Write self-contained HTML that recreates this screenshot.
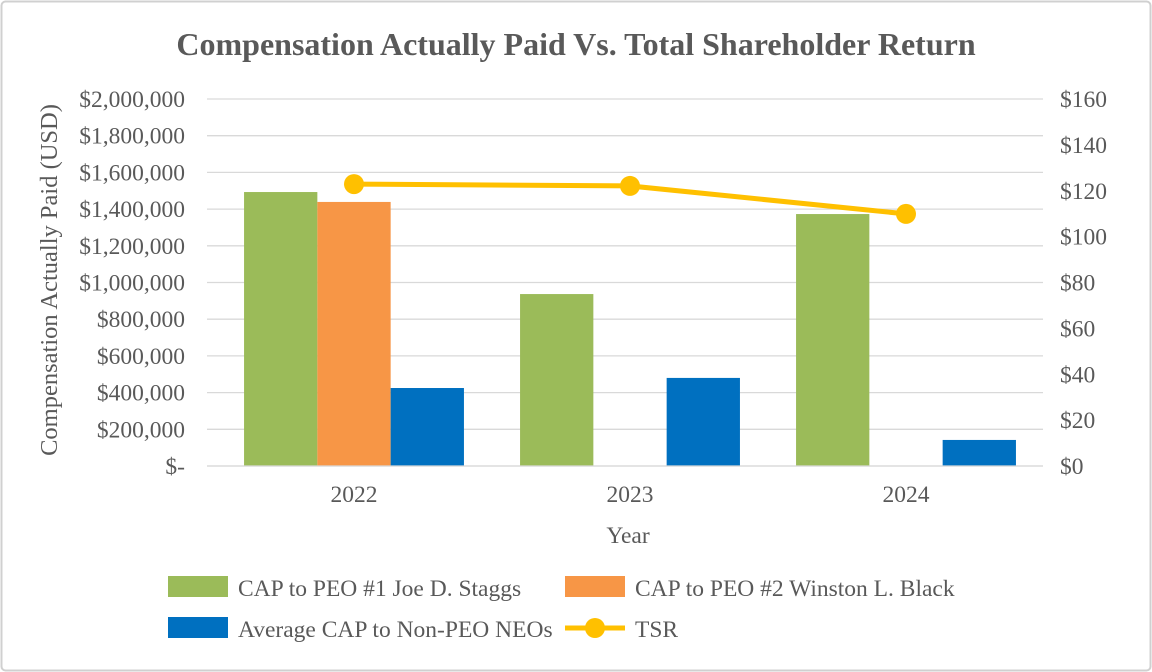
<!DOCTYPE html>
<html><head><meta charset="utf-8"><style>
html,body{margin:0;padding:0;background:#fff;}
svg{display:block;font-family:"Liberation Serif",serif;}
</style></head><body>
<svg width="1152" height="672" viewBox="0 0 1152 672">
<rect x="1.5" y="1.5" width="1149" height="669" rx="4" fill="#fff" stroke="#d0d0d0" stroke-width="2"/>
<text x="576" y="55" text-anchor="middle" font-size="32" font-weight="bold" fill="#595959">Compensation Actually Paid Vs. Total Shareholder Return</text>
<g id="grid"></g><g id="bars"></g><g id="line"></g><g id="axes"></g>
<text transform="translate(57,280) rotate(-90)" text-anchor="middle" font-size="24.5" fill="#595959">Compensation Actually Paid (USD)</text>
<text x="628" y="543" text-anchor="middle" font-size="23.5" fill="#595959">Year</text>
<g font-size="23.5" fill="#595959">
<g><rect x="168" y="576" width="60" height="21" fill="#9BBB59"/><text x="238" y="596">CAP to PEO #1 Joe D. Staggs</text></g>
<g><rect x="565" y="576" width="60" height="21" fill="#F79646"/><text x="635" y="596">CAP to PEO #2 Winston L. Black</text></g>
<g><rect x="168" y="617" width="60" height="21" fill="#0070C0"/><text x="238" y="637">Average CAP to Non-PEO NEOs</text></g>
<g><line x1="565" y1="628" x2="625" y2="628" stroke="#FFC000" stroke-width="5"/><circle cx="595" cy="628" r="10" fill="#FFC000"/><text x="635" y="637">TSR</text></g>
</g>
</svg>
<script>
const categories=["2022","2023","2024"];
const peo1=[1493000,937000,1373000];
const peo2=[1439000,0,0];
const neo=[425000,480000,142000];
const tsr=[122.9,122.1,109.9];
const leftTicks=["$-","$200,000","$400,000","$600,000","$800,000","$1,000,000","$1,200,000","$1,400,000","$1,600,000","$1,800,000","$2,000,000"];
const rightTicks=["$0","$20","$40","$60","$80","$100","$120","$140","$160"];
const NS="http://www.w3.org/2000/svg";
const gx0=207,gx1=1043,px0=216,px1=1044,y0=466,y1=99,LMAX=2000000,RMAX=160;
const yL=v=>y0-(v/LMAX)*(y0-y1);
const yR=v=>y0-(v/RMAX)*(y0-y1);
const band=(px1-px0)/categories.length;
const xC=i=>px0+band*(i+0.5);
function mk(tag,attrs,parent,text){const e=document.createElementNS(NS,tag);for(const k in attrs)e.setAttribute(k,attrs[k]);if(text!==undefined)e.textContent=text;document.getElementById(parent).appendChild(e);return e;}
leftTicks.forEach((t,i)=>{const y=yL(i*LMAX/(leftTicks.length-1));
 const g=mk('line',{x1:gx0,x2:gx1,y1:y,y2:y,stroke:'#d9d9d9','stroke-width':1.3},'grid');
 
 
 const l=mk('text',{x:185,y:y+8,'text-anchor':'end','font-size':23.5,fill:'#595959'},'axes',t);
 
 });
rightTicks.forEach((t,i)=>{const y=yR(i*RMAX/(rightTicks.length-1));
 const l=mk('text',{x:1060,y:y+8,'font-size':23.5,fill:'#595959'},'axes',t);
 
 });
categories.forEach((c,i)=>{const l=mk('text',{x:xC(i),y:502,'text-anchor':'middle','font-size':23.5,fill:'#595959'},'axes',c);
 
 });
const bw=73.3;
[[peo1,'#9BBB59','bar-peo1'],[peo2,'#F79646','bar-peo2'],[neo,'#0070C0','bar-neo']].forEach((s,k)=>{
 s[0].forEach((v,i)=>{const x=xC(i)-1.5*bw+k*bw;const b=mk('rect',{x:x,y:yL(v),width:bw,height:y0-yL(v),fill:s[1]},'bars');
 
 });});
const ax=mk('line',{x1:gx0,x2:gx1,y1:y0,y2:y0,stroke:'#d9d9d9','stroke-width':1.3},'axes');


const pl=mk('polyline',{points:tsr.map((v,i)=>xC(i)+','+yR(v)).join(' '),fill:'none',stroke:'#FFC000','stroke-width':5},'line');


tsr.forEach((v,i)=>{const c=mk('circle',{cx:xC(i),cy:yR(v),r:10,fill:'#FFC000'},'line');
 
 });
</script>
</body></html>
